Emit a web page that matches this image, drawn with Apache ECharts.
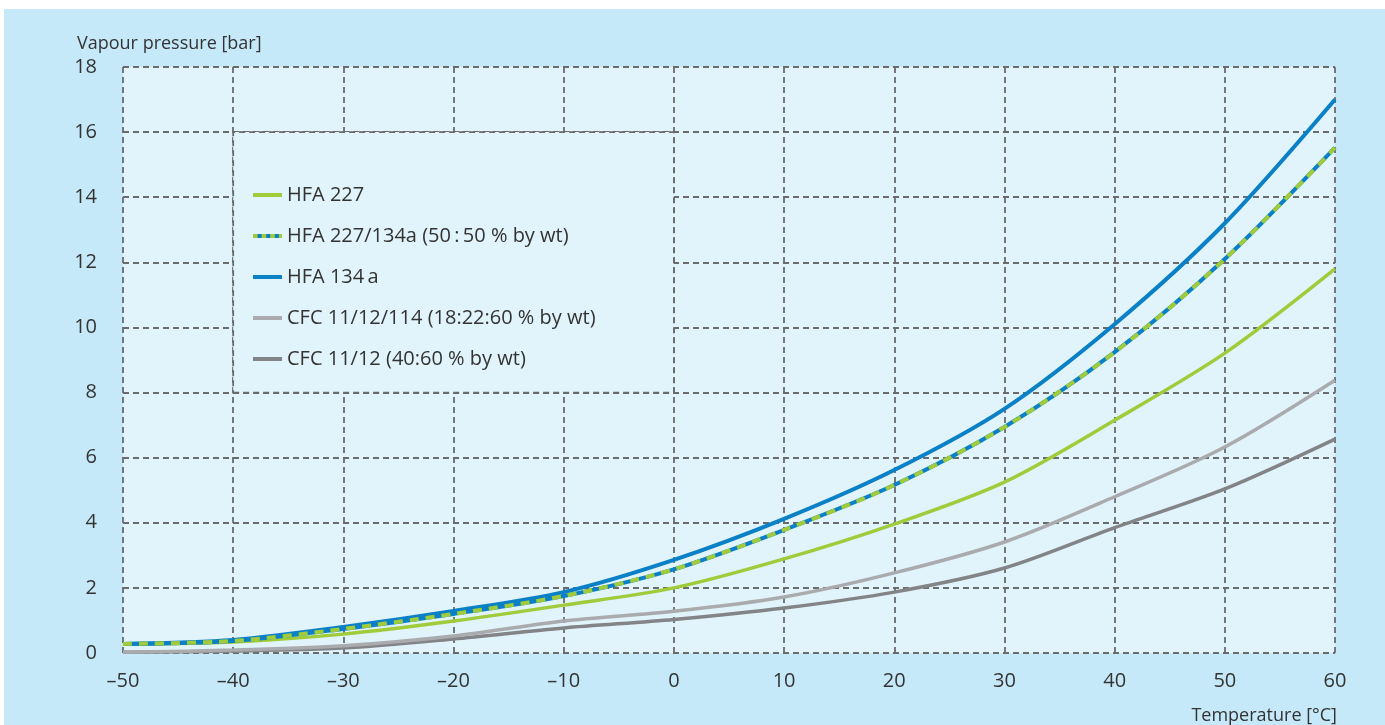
<!DOCTYPE html>
<html>
<head>
<meta charset="utf-8">
<script src="https://cdn.jsdelivr.net/npm/echarts@6/dist/echarts.min.js"></script>
<style>
  html, body { margin: 0; padding: 0; background: #ffffff; }
  #chart { position: absolute; left: 4px; top: 9px; width: 1381px; height: 716px; }
</style>
</head>
<body>
<div id="chart"></div>
<script>
// ---- data ----
const temperatures = [-50, -40, -30, -20, -10, 0, 10, 20, 30, 40, 50, 60];
const hfa227      = [0.27, 0.34, 0.58, 0.98, 1.47, 2.00, 2.89, 3.96, 5.25, 7.15, 9.21, 11.80];
const hfaMix      = [0.28, 0.37, 0.74, 1.20, 1.75, 2.57, 3.78, 5.16, 6.94, 9.24, 12.10, 15.52];
const hfa134a     = [0.28, 0.40, 0.80, 1.29, 1.87, 2.86, 4.12, 5.62, 7.50, 10.10, 13.20, 17.00];
const cfc1112114  = [0.02, 0.09, 0.22, 0.52, 0.98, 1.28, 1.72, 2.46, 3.41, 4.80, 6.33, 8.38];
const cfc1112     = [0.02, 0.06, 0.15, 0.43, 0.77, 1.03, 1.38, 1.87, 2.61, 3.85, 5.04, 6.57];
const seriesNames = [
  'HFA 227',
  'HFA 227/134a (50\u2009:\u200950 % by wt)',
  'HFA 134\u2009a',
  'CFC 11/12/114 (18:22:60 % by wt)',
  'CFC 11/12 (40:60 % by wt)'
];
const yTicks = { min: 0, max: 18, interval: 2 };
const xTicks = { min: -50, max: 60, interval: 10 };

const pairs = arr => temperatures.map((t, i) => [t, arr[i]]);

const GREEN = '#a0cb3a', BLUE = '#0a80c6', LGRAY = '#a9abae', DGRAY = '#828487';
const GRID = '#6a6b6d', TEXT = '#333333';
const FONT = "'Open Sans', sans-serif";

// legend icon for the mixed (dashed) series
let svg = "<svg xmlns='http://www.w3.org/2000/svg' width='29' height='4'><rect width='29' height='4' fill='" + BLUE + "'/>";
for (let x = 0; x < 29; x += 8.6) svg += "<rect x='" + x + "' width='4.6' height='4' fill='" + GREEN + "'/>";
svg += "</svg>";
const mixIcon = 'image://data:image/svg+xml;charset=utf-8,' + encodeURIComponent(svg);

const common = { type: 'line', showSymbol: false, symbol: 'none', smooth: 0.3, emphasis: { disabled: true } };
const gridLine = { show: true, lineStyle: { color: GRID, width: 1.8, type: [6, 4] } };

const chart = echarts.init(document.getElementById('chart'));
chart.setOption({
  backgroundColor: '#c6e9f9',
  animation: false,
  textStyle: { fontFamily: FONT },
  title: [
    { text: 'Vapour pressure [bar]', left: 73, top: 26, padding: 0,
      textStyle: { fontFamily: FONT, fontSize: 18, fontWeight: 'normal', color: TEXT } },
    { text: 'Temperature [\u00b0C]', right: 48, top: 698, padding: 0,
      textStyle: { fontFamily: FONT, fontSize: 18, fontWeight: 'normal', color: TEXT } }
  ],
  grid: { left: 119, right: 50, top: 58, bottom: 72, show: true, backgroundColor: '#e1f3fb', borderWidth: 0 },
  xAxis: {
    type: 'value', min: xTicks.min, max: xTicks.max, interval: xTicks.interval,
    axisLine: { show: false }, axisTick: { show: false },
    axisLabel: { margin: 18, fontSize: 20, color: TEXT, fontFamily: FONT,
      formatter: v => v < 0 ? '\u2013' + Math.abs(v) : String(v) },
    splitLine: gridLine
  },
  yAxis: {
    type: 'value', min: yTicks.min, max: yTicks.max, interval: yTicks.interval,
    axisLine: { show: false }, axisTick: { show: false },
    axisLabel: { margin: 26, fontSize: 20, color: TEXT, fontFamily: FONT, padding: [10, 0, 0, 0] },
    splitLine: gridLine
  },
  legend: {
    orient: 'vertical', left: 244, top: 170, itemWidth: 29, itemHeight: 4, itemGap: 19,
    textStyle: { fontFamily: FONT, fontSize: 20, color: TEXT, lineHeight: 22 },
    selectedMode: false,
    data: [
      { name: seriesNames[0], icon: 'rect' },
      { name: seriesNames[1], icon: mixIcon },
      { name: seriesNames[2], icon: 'rect' },
      { name: seriesNames[3], icon: 'rect' },
      { name: seriesNames[4], icon: 'rect' }
    ]
  },
  series: [
    Object.assign({}, common, { name: seriesNames[4], data: pairs(cfc1112), color: DGRAY,
      lineStyle: { color: DGRAY, width: 3.5 },
      markArea: { silent: true,
        itemStyle: { color: '#e1f3fb', borderColor: GRID, borderWidth: 1.8, borderType: [6, 4] },
        data: [[{ xAxis: -40, yAxis: 8 }, { xAxis: 0, yAxis: 16 }]] } }),
    Object.assign({}, common, { name: seriesNames[3], data: pairs(cfc1112114), color: LGRAY,
      lineStyle: { color: LGRAY, width: 3.5 } }),
    Object.assign({}, common, { name: seriesNames[0], data: pairs(hfa227), color: GREEN,
      lineStyle: { color: GREEN, width: 3.5 } }),
    Object.assign({}, common, { name: seriesNames[2], data: pairs(hfa134a), color: BLUE,
      lineStyle: { color: BLUE, width: 4 } }),
    Object.assign({}, common, { name: seriesNames[1], data: pairs(hfaMix), color: BLUE,
      lineStyle: { color: BLUE, width: 4 } }),
    Object.assign({}, common, { name: seriesNames[1], data: pairs(hfaMix), color: GREEN,
      lineStyle: { color: GREEN, width: 4, type: [9, 7] } })
  ]
});
</script>
</body>
</html>
